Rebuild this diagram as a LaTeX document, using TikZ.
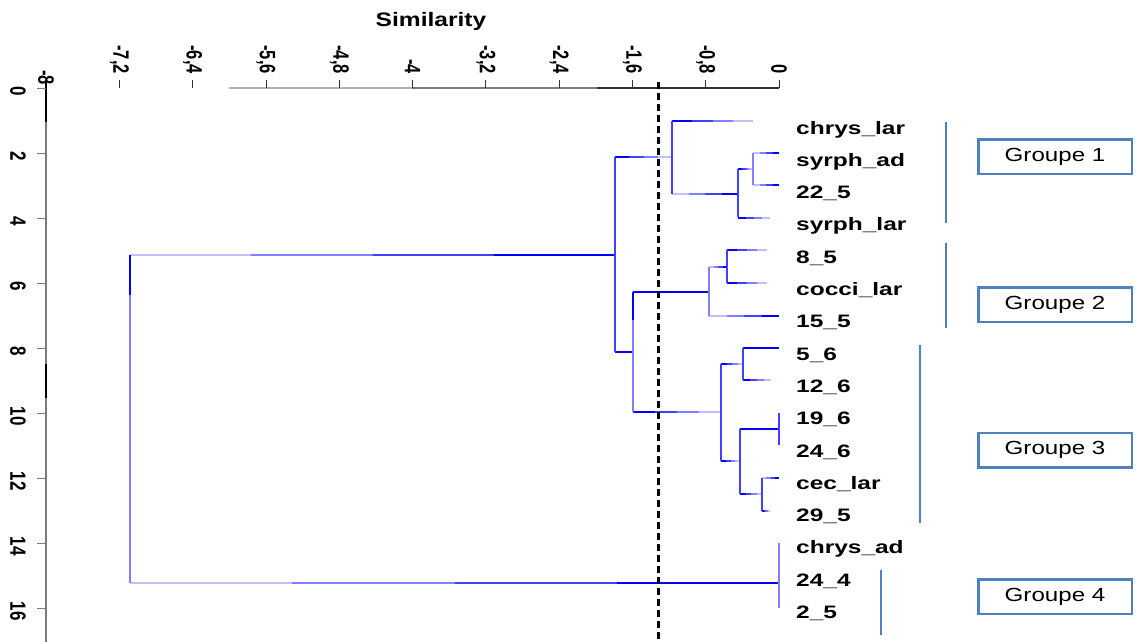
\documentclass[tikz,border=0pt]{standalone}
\usepackage{fontspec}
\setmainfont{Liberation Sans}
\usepackage{graphicx}
\definecolor{b1}{RGB}{0,0,255}
\definecolor{b2}{RGB}{64,64,255}
\definecolor{b3}{RGB}{128,128,255}
\definecolor{b4}{RGB}{192,192,255}
\definecolor{grp}{RGB}{79,129,189}
\definecolor{ax1}{RGB}{180,180,180}
\definecolor{ax2}{RGB}{122,122,122}
\definecolor{ax3}{RGB}{50,50,50}
\newcommand{\hR}[4][1.3pt]{\foreach \i/\c in {0/b4,1/b3,2/b2,3/b1}{\draw[line width=#1,\c] ({#2+\i*(#3-#2)/4},#4) -- ({#2+(\i+1)*(#3-#2)/4},#4);}}
\newcommand{\hL}[4][1.3pt]{\foreach \i/\c in {0/b1,1/b2,2/b3,3/b4}{\draw[line width=#1,\c] ({#2+\i*(#3-#2)/4},#4) -- ({#2+(\i+1)*(#3-#2)/4},#4);}}
\newcommand{\vs}[4][b2]{\draw[line width=1.2pt,#1] (#2,#3) -- (#2,#4);}
\begin{document}
\begin{tikzpicture}[x=1pt,y=-1pt,
  leaf/.style={anchor=base west,inner sep=0pt},
  grpbox/.style={draw=grp,line width=2.5pt,minimum width=153.5pt,minimum height=34.5pt,inner sep=0pt},
  brk/.style={draw=grp,line width=2.2pt}]
\useasboundingbox (0,0) rectangle (1136,642);
% title
\node (sim) at (431,21) {\scalebox{1.26}[1]{\bfseries\fontsize{19.5}{19.5}\selectfont Similarity}};
% top axis
\draw[ax1,line width=1.5pt] (229,88) -- (412,88);
\draw[ax2,line width=1.5pt] (412,88) -- (597,88);
\draw[ax3,line width=1.5pt] (597,88) -- (779,88);
\foreach \v/\t [count=\n] in {-7.2/{-7,2},-6.4/{-6,4},-5.6/{-5,6},-4.8/{-4,8},-4/{-4},-3.2/{-3,2},-2.4/{-2,4},-1.6/{-1,6},-0.8/{-0,8},0/{0}}{
  \draw[ax3,line width=0.8pt] ({779+91.6*\v},80) -- ({779+91.6*\v},88);
  \node[anchor=south,inner sep=0pt] (tx\n) at ({779+91.6*\v},74) {\scalebox{1.35}[1]{\rotatebox{-90}{\bfseries\fontsize{16.5}{16.5}\selectfont \t}}};
}
\node[anchor=south,inner sep=0pt] (txm8) at (46,85) {\scalebox{1.35}[1]{\rotatebox{-90}{\bfseries\fontsize{16.5}{16.5}\selectfont -8}}};
% left axis
\draw[black,line width=1.3pt] (46,80) -- (46,122);
\draw[ax2,line width=1.3pt] (46,122) -- (46,364);
\draw[black,line width=1.3pt] (46,364) -- (46,398);
\draw[ax2,line width=1.3pt] (46,398) -- (46,642);
\foreach \k in {0,2,...,16}{
  \draw[ax2,line width=0.9pt] (37,{88+32.5*\k}) -- (46,{88+32.5*\k});
  \node[inner sep=0pt] (ty\k) at (18,{91+32.5*\k}) {\scalebox{1.3}[1]{\rotatebox{-90}{\bfseries\fontsize{17}{17}\selectfont \k}}};
}
% dendrogram: horizontals
\hR[2pt]{130}{615}{255}
\hR[2pt]{130}{779}{583}
\hL{615}{672}{157}
\hR{672}{738}{194}
\hL{738}{753}{169}
\hL{672}{753}{121}
\hR{753}{779}{153}
\hR{753}{779}{185}
\hL{738}{770}{218}
\draw[b1,line width=1.3pt] (615,352) -- (633,352);
\draw[b1,line width=1.3pt] (633,292) -- (709,292);
\hR{709}{727}{267}
\hL{727}{767}{250}
\hL{727}{767}{283}
\hR{709}{779}{316}
\hL{633}{721}{412}
\hL{721}{743}{364}
\draw[b1,line width=1.3pt] (743,348) -- (779,348);
\hL{743}{771}{380}
\hL{721}{740}{461}
\draw[b1,line width=1.3pt] (740,429) -- (779,429);
\hL{740}{762}{494}
\hR{762}{779}{478}
\hL{762}{770}{511}
% verticals
\draw[b1,line width=1.6pt] (130,255) -- (130,295);
\draw[b3,line width=1.6pt] (130,295) -- (130,583);
\vs{615}{157}{352}
\vs{672}{121}{194}
\vs{738}{169}{217}
\vs[b3]{753}{153}{185}
\draw[b1,line width=1.2pt] (633,292) -- (633,320);
\vs[b3]{633}{320}{412}
\vs[b3]{709}{267}{316}
\vs{727}{250}{283}
\vs{721}{364}{461}
\vs{743}{348}{380}
\vs{740}{429}{494}
\vs{779}{413}{445}
\vs{762}{478}{511}
\vs[b3]{779}{543}{608}
% cut line
\draw[black,line width=3pt,dash pattern=on 7pt off 4pt] (658,82) -- (658,642);
% leaf labels
\foreach \t [count=\i] in {chrys\_lar,syrph\_ad,22\_5,syrph\_lar,8\_5,cocci\_lar,15\_5,5\_6,12\_6,19\_6,24\_6,cec\_lar,29\_5,chrys\_ad,24\_4,2\_5}{
  \node[leaf] (l\i) at (796,{134+32.3*(\i-1)}) {\scalebox{1.36}[1]{\bfseries\fontsize{18}{18}\selectfont \t}};
}
% group brackets
\draw[brk] (946,122) -- (946,223);
\draw[brk] (946,243) -- (946,328);
\draw[brk] (920,345) -- (920,523);
\draw[brk] (881,570) -- (881,635);
% group boxes
\node[grpbox] (g1) at (1055,156.5) {\scalebox{1.27}[1]{\fontsize{19}{19}\selectfont Groupe 1}};
\node[grpbox] (g2) at (1055,304.5) {\scalebox{1.27}[1]{\fontsize{19}{19}\selectfont Groupe 2}};
\node[grpbox] (g3) at (1055,450) {\scalebox{1.27}[1]{\fontsize{19}{19}\selectfont Groupe 3}};
\node[grpbox] (g4) at (1055,596.5) {\scalebox{1.27}[1]{\fontsize{19}{19}\selectfont Groupe 4}};
\end{tikzpicture}
\end{document}
